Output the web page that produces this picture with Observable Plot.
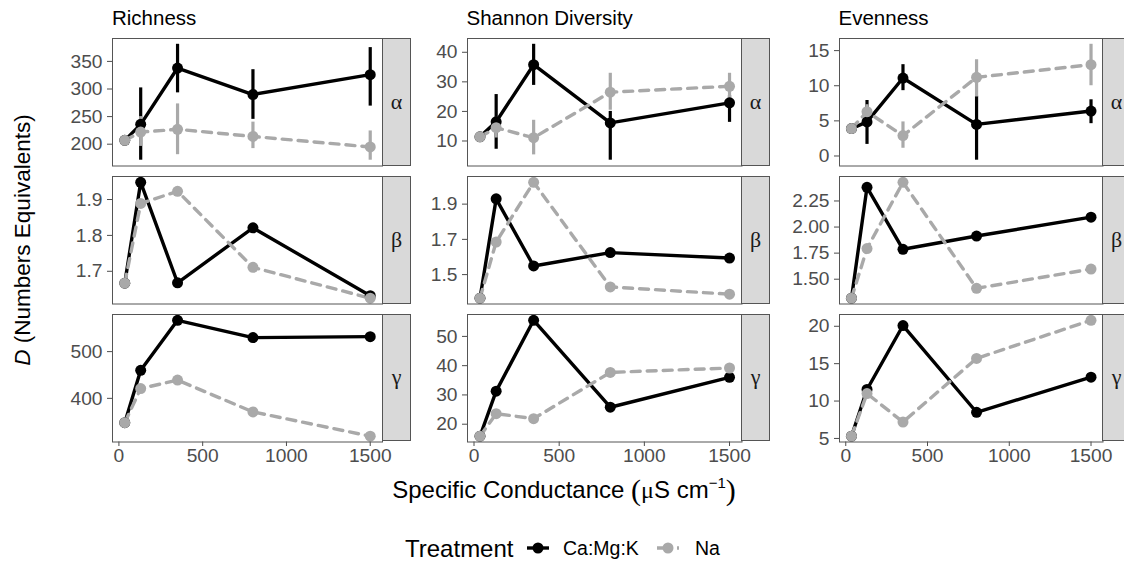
<!DOCTYPE html>
<html><head><meta charset="utf-8">
<script src="https://cdn.jsdelivr.net/npm/d3@7"></script>
<script src="https://cdn.jsdelivr.net/npm/@observablehq/plot@0.6"></script>
<style>
body{margin:0;background:#fff;}
#root{position:relative;width:1124px;height:564px;overflow:hidden;background:#fff;font-family:"Liberation Sans",Arial,sans-serif;}
.panel{position:absolute;overflow:visible;}
.strip{position:absolute;background:#d9d9d9;border:1px solid #555;box-sizing:border-box;display:flex;align-items:center;justify-content:center;font-family:"Liberation Serif","DejaVu Serif",serif;font-size:22px;color:#1a1a1a;}
#overlay{position:absolute;left:0;top:0;pointer-events:none;}
</style></head><body><div id="root"></div>
<script>
// ---------- data ----------
const conductance = [35, 130, 350, 800, 1500];
const xTicks = [0, 500, 1000, 1500];
const treatments = ["Ca:Mg:K", "Na"];
const metricTitles = ["Richness", "Shannon Diversity", "Evenness"];
const orderLabels = ["α", "β", "γ"];

// Richness
const richAlphaCa   = [207, 236, 338, 290, 326];
const richAlphaCaLo = [null, 171, 293, 245, 269];
const richAlphaCaHi = [null, 302, 381, 335, 375];
const richAlphaNa   = [207, 222, 227, 214, 195];
const richAlphaNaLo = [null, 196, 181, 192, 171];
const richAlphaNaHi = [null, 250, 273, 240, 224];
const richBetaCa  = [1.667, 1.948, 1.668, 1.821, 1.632];
const richBetaNa  = [1.667, 1.889, 1.923, 1.711, 1.625];
const richGammaCa = [348, 460, 567, 530, 532];
const richGammaNa = [348, 421, 439, 371, 319];

// Shannon diversity
const shanAlphaCa   = [11.4, 16.5, 35.8, 16.1, 22.9];
const shanAlphaCaLo = [null, 7.2, 28.8, 3.5, 16.3];
const shanAlphaCaHi = [null, 25.7, 42.7, 20.0, 25.4];
const shanAlphaNa   = [11.4, 14.5, 11.1, 26.5, 28.5];
const shanAlphaNaLo = [null, 11.0, 5.3, 20.4, 23.8];
const shanAlphaNaHi = [null, 18.0, 17.0, 32.9, 32.9];
const shanBetaCa  = [1.366, 1.930, 1.549, 1.625, 1.594];
const shanBetaNa  = [1.366, 1.685, 2.024, 1.430, 1.389];
const shanGammaCa = [15.9, 31.3, 55.5, 25.8, 36.0];
const shanGammaNa = [15.9, 23.6, 21.9, 37.7, 39.2];

// Evenness
const evenAlphaCa   = [3.9, 4.85, 11.1, 4.5, 6.4];
const evenAlphaCaLo = [null, 1.65, 9.3, -0.6, 4.6];
const evenAlphaCaHi = [null, 7.9, 13.0, 8.5, 8.0];
const evenAlphaNa   = [3.9, 6.3, 2.9, 11.2, 13.0];
const evenAlphaNaLo = [null, 5.3, 1.1, 8.4, 10.0];
const evenAlphaNaHi = [null, 7.3, 4.85, 13.7, 15.9];
const evenBetaCa  = [1.318, 2.381, 1.787, 1.914, 2.095];
const evenBetaNa  = [1.318, 1.794, 2.429, 1.413, 1.597];
const evenGammaCa = [5.3, 11.55, 20.1, 8.5, 13.2];
const evenGammaNa = [5.3, 11.0, 7.2, 15.7, 20.8];

// y tick labels
const richAlphaTicks = [200, 250, 300, 350];
const richBetaTicks  = [1.7, 1.8, 1.9];
const richGammaTicks = [400, 500];
const shanAlphaTicks = [10, 20, 30, 40];
const shanBetaTicks  = [1.5, 1.7, 1.9];
const shanGammaTicks = [20, 30, 40, 50];
const evenAlphaTicks = [0, 5, 10, 15];
const evenBetaTicks  = [1.50, 1.75, 2.00, 2.25];
const evenGammaTicks = [5, 10, 15, 20];

// ---------- layout ----------
const COLS = [{left: 112, right: 382}, {left: 466.5, right: 741}, {left: 838.5, right: 1102}];
const ROWS = [38, 176, 313.5];
const PANEL_H = 127.5;
const STRIP_W = 29;
const ML = 60, MT = 6, MR = 6;
const CA_COLOR = "#000000", NA_COLOR = "#a9a9a9";
const FONT = '"Liberation Sans", Arial, sans-serif';

const panels = [
  [ {ca: richAlphaCa, na: richAlphaNa, caLo: richAlphaCaLo, caHi: richAlphaCaHi, naLo: richAlphaNaLo, naHi: richAlphaNaHi, ticks: richAlphaTicks, fmt: "d"},
    {ca: richBetaCa, na: richBetaNa, ticks: richBetaTicks, fmt: ".1f"},
    {ca: richGammaCa, na: richGammaNa, ticks: richGammaTicks, fmt: "d"} ],
  [ {ca: shanAlphaCa, na: shanAlphaNa, caLo: shanAlphaCaLo, caHi: shanAlphaCaHi, naLo: shanAlphaNaLo, naHi: shanAlphaNaHi, ticks: shanAlphaTicks, fmt: "d"},
    {ca: shanBetaCa, na: shanBetaNa, ticks: shanBetaTicks, fmt: ".1f"},
    {ca: shanGammaCa, na: shanGammaNa, ticks: shanGammaTicks, fmt: "d"} ],
  [ {ca: evenAlphaCa, na: evenAlphaNa, caLo: evenAlphaCaLo, caHi: evenAlphaCaHi, naLo: evenAlphaNaLo, naHi: evenAlphaNaHi, ticks: evenAlphaTicks, fmt: "d"},
    {ca: evenBetaCa, na: evenBetaNa, ticks: evenBetaTicks, fmt: ".2f"},
    {ca: evenGammaCa, na: evenGammaNa, ticks: evenGammaTicks, fmt: "d"} ]
];

const root = document.getElementById("root");

function expand([a, b]) { const p = (b - a) * 0.05; return [a - p, b + p]; }
const xDomain = expand(d3.extent(conductance));

function rowsOf(vals, lo, hi, t) {
  return conductance.map((x, i) => ({x, y: vals[i], lo: lo ? lo[i] : null, hi: hi ? hi[i] : null, t}));
}

panels.forEach((col, ci) => {
  const C = COLS[ci];
  const pw = C.right - C.left;
  col.forEach((p, ri) => {
    const bottom = ri === 2;
    const MB = bottom ? 40 : 6;
    const caRows = rowsOf(p.ca, p.caLo, p.caHi, treatments[0]);
    const naRows = rowsOf(p.na, p.naLo, p.naHi, treatments[1]);
    const all = [...caRows, ...naRows];
    const vals = all.flatMap(d => [d.y, d.lo, d.hi]).filter(v => v != null);
    const yDomain = expand(d3.extent(vals));
    const bars = r => r.filter(d => d.lo != null);
    const chart = Plot.plot({
      width: ML + pw + MR,
      height: MT + PANEL_H + MB,
      marginLeft: ML, marginRight: MR, marginTop: MT, marginBottom: MB,
      x: {domain: xDomain, ...(bottom ? {} : {axis: null})},
      y: {domain: yDomain},
      style: {fontFamily: FONT, fontSize: "19.2px", overflow: "visible", background: "transparent"},
      marks: [
        Plot.axisY({ticks: p.ticks, tickFormat: d3.format(p.fmt), tickSize: 5, tickPadding: 5, color: "#4d4d4d", label: null}),
        bottom ? Plot.axisX({ticks: xTicks, tickFormat: d3.format("d"), tickSize: 4.5, tickPadding: 2, color: "#4d4d4d", label: null}) : null,
        Plot.line(caRows, {x: "x", y: "y", stroke: CA_COLOR, strokeWidth: 3.4}),
        Plot.line(naRows, {x: "x", y: "y", stroke: NA_COLOR, strokeWidth: 3.4, strokeDasharray: "9,7"}),
        Plot.ruleX(bars(caRows), {x: "x", y1: "lo", y2: "hi", stroke: CA_COLOR, strokeWidth: 3.2}),
        Plot.ruleX(bars(naRows), {x: "x", y1: "lo", y2: "hi", stroke: NA_COLOR, strokeWidth: 3.2}),
        Plot.dot(caRows, {x: "x", y: "y", r: 5.5, fill: CA_COLOR}),
        Plot.dot(naRows, {x: "x", y: "y", r: 5.5, fill: NA_COLOR}),
        Plot.frame({stroke: "#555", strokeWidth: 1})
      ]
    });
    chart.classList.add("panel");
    chart.style.left = (C.left - ML) + "px";
    chart.style.top = (ROWS[ri] - MT) + "px";
    root.appendChild(chart);

    const strip = document.createElement("div");
    strip.className = "strip";
    strip.style.left = C.right + "px";
    strip.style.top = ROWS[ri] + "px";
    strip.style.width = STRIP_W + "px";
    strip.style.height = PANEL_H + "px";
    strip.textContent = orderLabels[ri];
    root.appendChild(strip);
  });
});

// ---------- titles, axis labels, legend ----------
const ov = d3.select(root).append("svg").attr("id", "overlay").attr("width", 1124).attr("height", 564)
  .style("font-family", FONT);

metricTitles.forEach((t, i) => {
  ov.append("text").attr("x", COLS[i].left).attr("y", 25).attr("font-size", 20.5).attr("fill", "#000").text(t);
});

// y axis title
const yt = ov.append("text").attr("transform", "translate(30,240) rotate(-90)")
  .attr("text-anchor", "middle").attr("font-size", 22.5).attr("fill", "#000");
yt.append("tspan").attr("font-style", "italic").text("D");
yt.append("tspan").text(" (Numbers Equivalents)");

// x axis title
const xt = ov.append("text").attr("x", 564).attr("y", 498).attr("text-anchor", "middle")
  .attr("font-size", 24).attr("fill", "#000");
xt.append("tspan").text("Specific Conductance ");
xt.append("tspan").attr("font-size", 30).attr("font-family", '"Liberation Serif", serif').attr("dy", 2).text("(");
xt.append("tspan").attr("font-family", '"Liberation Serif", serif').attr("dy", -2).text("μ");
xt.append("tspan").text("S cm");
xt.append("tspan").attr("font-size", 15).attr("dy", -10).text("−1");
xt.append("tspan").attr("font-size", 30).attr("font-family", '"Liberation Serif", serif').attr("dy", 12).text(")");

// legend
const LY = 548;
ov.append("text").attr("x", 405).attr("y", LY + 8.5).attr("font-size", 24).attr("fill", "#000").text("Treatment");
const keys = [
  {label: treatments[0], color: CA_COLOR, dash: null, x0: 527, tx: 563},
  {label: treatments[1], color: NA_COLOR, dash: "6,4", x0: 657, tx: 695}
];
keys.forEach(k => {
  ov.append("line").attr("x1", k.x0).attr("x2", k.x0 + 22).attr("y1", LY).attr("y2", LY)
    .attr("stroke", k.color).attr("stroke-width", 3.4).attr("stroke-dasharray", k.dash);
  ov.append("circle").attr("cx", k.x0 + 11).attr("cy", LY).attr("r", 5.5).attr("fill", k.color);
  ov.append("text").attr("x", k.tx).attr("y", LY + 7).attr("font-size", 19.5).attr("fill", "#000").text(k.label);
});
</script></body></html>
